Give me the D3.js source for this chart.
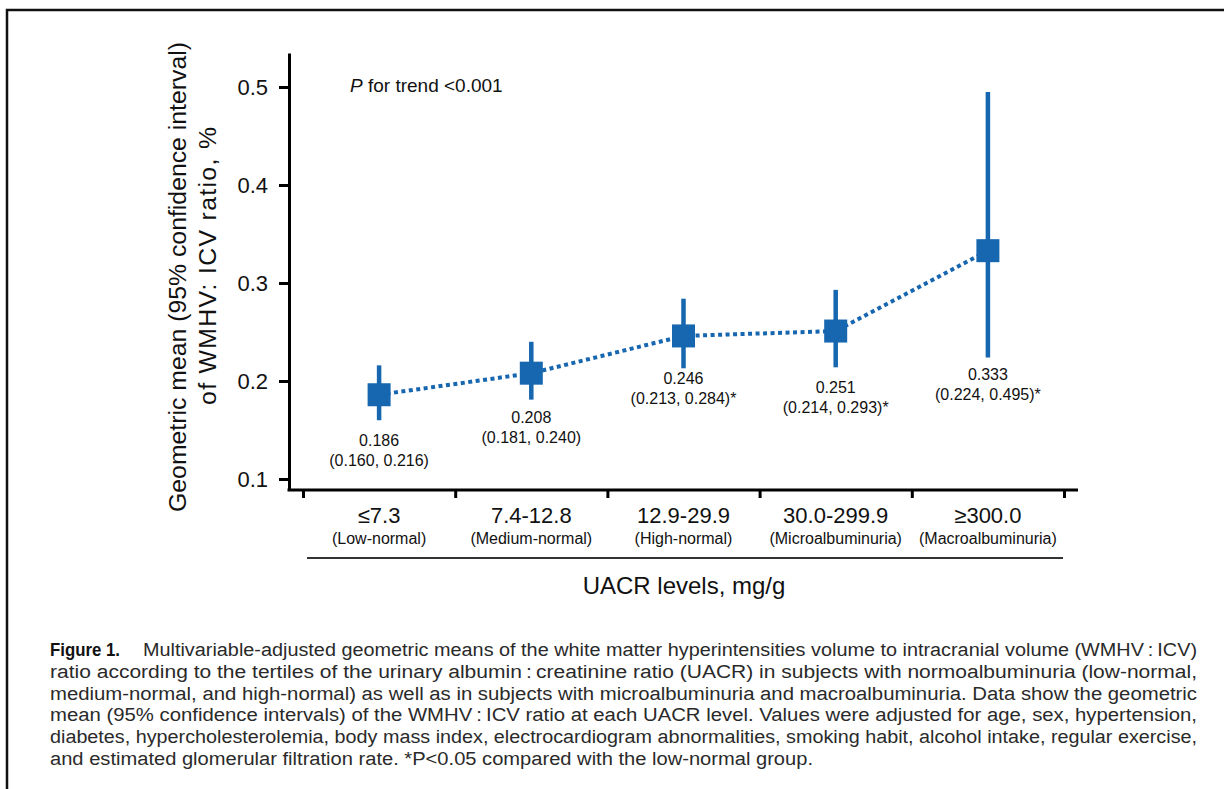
<!DOCTYPE html>
<html>
<head>
<meta charset="utf-8">
<script src="https://cdn.jsdelivr.net/npm/d3@7"></script>
<style>
  body { margin: 0; background: #fff; }
  svg { display: block; font-family: "Liberation Sans", Arial, Helvetica, sans-serif; }
</style>
</head>
<body>
<div id="chart"></div>
<script>
// Data
const categories = ["≤7.3", "7.4-12.8", "12.9-29.9", "30.0-299.9", "≥300.0"];
const subLabels = ["(Low-normal)", "(Medium-normal)", "(High-normal)", "(Microalbuminuria)", "(Macroalbuminuria)"];
const means = [0.186, 0.208, 0.246, 0.251, 0.333];
const lower = [0.160, 0.181, 0.213, 0.214, 0.224];
const upper = [0.216, 0.240, 0.284, 0.293, 0.495];
const significant = [false, false, true, true, true];
const yTicks = [0.1, 0.2, 0.3, 0.4, 0.5];

const captionLines = [
    "Multivariable-adjusted geometric means of the white matter hyperintensities volume to intracranial volume (WMHV\u2009:\u2009ICV)",
    "ratio according to the tertiles of the urinary albumin\u2009:\u2009creatinine ratio (UACR) in subjects with normoalbuminuria (low-normal,",
    "medium-normal, and high-normal) as well as in subjects with microalbuminuria and macroalbuminuria. Data show the geometric",
    "mean (95% confidence intervals) of the WMHV\u2009:\u2009ICV ratio at each UACR level. Values were adjusted for age, sex, hypertension,",
    "diabetes, hypercholesterolemia, body mass index, electrocardiogram abnormalities, smoking habit, alcohol intake, regular exercise,",
    "and estimated glomerular filtration rate. *P<0.05 compared with the low-normal group."
];

// layout: gap (px) between lower CI end and the value label, per point
const labelGap = [20, 18, 10, 20, 17];

const width = 1224, height = 789;
const blue = "#1666b0";

const svg = d3.select("#chart").append("svg")
    .attr("width", width)
    .attr("height", height);

// frame (top + left rules)
svg.append("path")
    .attr("d", `M7,${height} L7,10 L${width},10`)
    .attr("fill", "none")
    .attr("stroke", "#111")
    .attr("stroke-width", 2.5);

// scales
const yScale = d3.scaleLinear()
    .domain([0.0888, 0.5347])
    .range([490, 53]);

const xBand = d3.scaleBand()
    .domain(categories)
    .range([303, 1064])
    .padding(0);

const xEdges = d3.scaleLinear()
    .domain([0, categories.length])
    .range([303, 1064]);

const axisX = 289;
const axisY = 490;

// y axis
const yAxisG = svg.append("g")
    .attr("transform", `translate(${axisX},0)`)
    .call(d3.axisLeft(yScale).tickValues(yTicks).tickSize(10).tickSizeOuter(0).tickPadding(11)
        .tickFormat(d3.format(".1f")));
yAxisG.select(".domain").attr("stroke-width", 3).attr("stroke", "#000");
yAxisG.selectAll(".tick line").attr("stroke-width", 3).attr("stroke", "#000");
yAxisG.selectAll(".tick text")
    .attr("font-size", "22px")
    .attr("font-family", "Liberation Sans, Arial, sans-serif")
    .attr("fill", "#111");

// x axis: line + boundary ticks
svg.append("line")
    .attr("x1", axisX - 1.5).attr("x2", 1078)
    .attr("y1", axisY).attr("y2", axisY)
    .attr("stroke", "#000").attr("stroke-width", 3);

const xAxisG = svg.append("g")
    .attr("transform", `translate(0,${axisY})`)
    .call(d3.axisBottom(xEdges).tickValues(d3.range(categories.length + 1)).tickSize(8).tickFormat(""));
xAxisG.select(".domain").remove();
xAxisG.selectAll(".tick line").attr("stroke-width", 3).attr("stroke", "#000");

// category labels
const catG = svg.append("g");
categories.forEach((c, i) => {
    const cx = xBand(c) + xBand.bandwidth() / 2;
    catG.append("text")
        .attr("x", cx).attr("y", 523)
        .attr("text-anchor", "middle")
        .attr("font-size", "22px")
        .attr("fill", "#111")
        .text(c);
    catG.append("text")
        .attr("x", cx).attr("y", 544)
        .attr("text-anchor", "middle")
        .attr("font-size", "16px")
        .attr("fill", "#111")
        .text(subLabels[i]);
});

// rule under category labels
svg.append("line")
    .attr("x1", 307).attr("x2", 1063)
    .attr("y1", 558).attr("y2", 558)
    .attr("stroke", "#333").attr("stroke-width", 2);

// x axis title
svg.append("text")
    .attr("x", 684).attr("y", 594)
    .attr("text-anchor", "middle")
    .attr("font-size", "24px")
    .attr("fill", "#111")
    .text("UACR levels, mg/g");

// y axis title (two lines, rotated)
svg.append("text")
    .attr("transform", "translate(186,277) rotate(-90)")
    .attr("text-anchor", "middle")
    .attr("font-size", "24.8px")
    .attr("fill", "#111")
    .text("Geometric mean (95% confidence interval)");
svg.append("text")
    .attr("transform", "translate(216,266) rotate(-90)")
    .attr("text-anchor", "middle")
    .attr("font-size", "24.8px")
    .attr("textLength", 278)
    .attr("lengthAdjust", "spacing")
    .attr("fill", "#111")
    .text("of WMHV: ICV ratio, %");

// P for trend
const pText = svg.append("text")
    .attr("x", 350).attr("y", 92)
    .attr("font-size", "19px")
    .attr("fill", "#111");
pText.append("tspan").attr("font-style", "italic").text("P");
pText.append("tspan").text(" for trend <0.001");

// dotted connecting line
const cxOf = i => xBand(categories[i]) + xBand.bandwidth() / 2;
const line = d3.line()
    .x((d, i) => cxOf(i))
    .y(d => yScale(d));
svg.append("path")
    .datum(means)
    .attr("d", line)
    .attr("fill", "none")
    .attr("stroke", blue)
    .attr("stroke-width", 4)
    .attr("stroke-dasharray", "4,3.5");

// error bars
svg.selectAll("line.err")
    .data(means)
    .enter()
    .append("line")
    .attr("class", "err")
    .attr("x1", (d, i) => cxOf(i))
    .attr("x2", (d, i) => cxOf(i))
    .attr("y1", (d, i) => yScale(lower[i]))
    .attr("y2", (d, i) => yScale(upper[i]))
    .attr("stroke", blue)
    .attr("stroke-width", 4.5);

// square markers
const sq = 23;
svg.selectAll("rect.pt")
    .data(means)
    .enter()
    .append("rect")
    .attr("class", "pt")
    .attr("x", (d, i) => cxOf(i) - sq / 2)
    .attr("y", d => yScale(d) - sq / 2)
    .attr("width", sq)
    .attr("height", sq)
    .attr("fill", blue);

// value labels
const fmt = d3.format(".3f");
means.forEach((m, i) => {
    const y0 = yScale(lower[i]) + labelGap[i] + 5.5;
    const t = svg.append("text")
        .attr("text-anchor", "middle")
        .attr("font-size", "16px")
        .attr("fill", "#111");
    t.append("tspan").attr("x", cxOf(i)).attr("y", y0).text(fmt(m));
    t.append("tspan").attr("x", cxOf(i)).attr("y", y0 + 20)
        .text(`(${fmt(lower[i])}, ${fmt(upper[i])})${significant[i] ? "*" : ""}`);
});

// caption (justified lines)
const capLeft = 50, capRight = 1197, capTop = 656, capLead = 21.8;
captionLines.forEach((ln, i) => {
    const y = capTop + i * capLead;
    const last = i === captionLines.length - 1;
    if (i === 0) {
        svg.append("text")
            .attr("x", capLeft).attr("y", y)
            .attr("font-size", "19px")
            .attr("font-weight", "bold")
            .attr("textLength", 70)
            .attr("lengthAdjust", "spacingAndGlyphs")
            .attr("fill", "#111")
            .text("Figure 1.");
    }
    const x0 = i === 0 ? 143 : capLeft;
    svg.append("text")
        .attr("x", x0).attr("y", y)
        .attr("font-size", "18px")
        .attr("fill", "#2a2a2a")
        .attr("textLength", (last ? 813 : capRight) - x0)
        .attr("lengthAdjust", "spacingAndGlyphs")
        .text(ln);
});
</script>
</body>
</html>
